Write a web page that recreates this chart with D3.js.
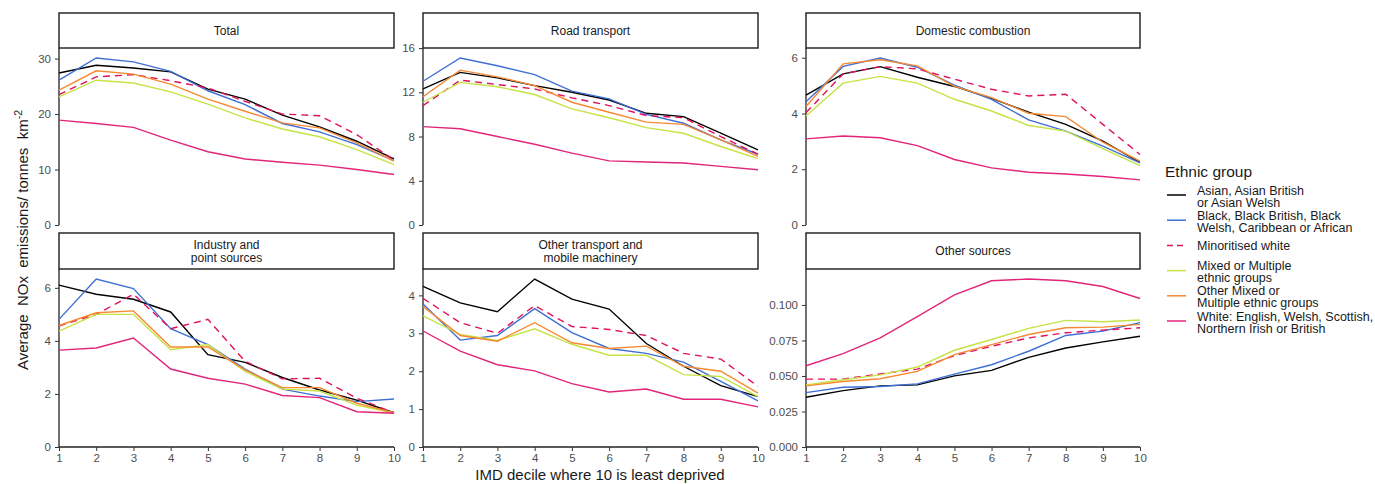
<!DOCTYPE html>
<html>
<head>
<meta charset="utf-8">
<script src="https://cdn.jsdelivr.net/npm/d3@7"></script>
<style>
  body { margin: 0; background: #fff; }
  text { font-family: "Liberation Sans", Arial, sans-serif; }
</style>
</head>
<body>
<div id="chart"></div>
<script>
// IMD deciles
const deciles = [1, 2, 3, 4, 5, 6, 7, 8, 9, 10];

// Ethnic groups (legend order)
const groups = [
    ["Asian, Asian British", "or Asian Welsh"],
    ["Black, Black British, Black", "Welsh, Caribbean or African"],
    ["Minoritised white"],
    ["Mixed or Multiple", "ethnic groups"],
    ["Other Mixed or", "Multiple ethnic groups"],
    ["White: English, Welsh, Scottish,", "Northern Irish or British"]
];
const groupColors = ["#000000", "#3f6fd3", "#e0105e", "#c6e344", "#f58a33", "#e2257a"];
const groupDashed = [false, false, true, false, false, false];

// Facet titles
const facetTitles = [
    ["Total"], ["Road transport"], ["Domestic combustion"],
    ["Industry and", "point sources"], ["Other transport and", "mobile machinery"], ["Other sources"]
];

// values per facet, one row per ethnic group (same order as groups)
const total = [
    [27.4, 28.8, 28.3, 27.6, 24.5, 22.7, 19.8, 17.7, 15.1, 11.9],
    [26.1, 30.1, 29.4, 27.7, 24.2, 21.7, 18.3, 16.8, 14.5, 11.6],
    [23.5, 26.7, 27.1, 26.0, 24.7, 22.3, 20.0, 19.7, 16.3, 11.7],
    [23.1, 26.1, 25.6, 24.0, 21.8, 19.3, 17.3, 15.9, 13.6, 10.9],
    [24.3, 27.8, 27.2, 25.4, 22.7, 20.5, 18.4, 17.5, 14.8, 11.5],
    [18.9, 18.3, 17.6, 15.3, 13.2, 11.9, 11.3, 10.8, 10.0, 9.1]
];
const road = [
    [12.3, 13.8, 13.3, 12.6, 12.0, 11.3, 10.1, 9.8, 8.3, 6.8],
    [13.0, 15.1, 14.4, 13.6, 12.1, 11.4, 10.0, 9.2, 7.7, 6.4],
    [10.8, 13.1, 12.7, 12.3, 11.5, 10.8, 9.9, 9.7, 8.0, 6.4],
    [11.1, 12.9, 12.5, 11.8, 10.5, 9.7, 8.8, 8.3, 7.1, 6.0],
    [11.6, 14.0, 13.4, 12.6, 11.1, 10.2, 9.3, 9.1, 7.7, 6.2],
    [8.9, 8.7, 8.0, 7.3, 6.5, 5.8, 5.7, 5.6, 5.3, 5.0]
];
const domestic = [
    [4.66, 5.42, 5.68, 5.30, 4.97, 4.54, 4.05, 3.61, 3.01, 2.25],
    [4.42, 5.69, 5.99, 5.66, 5.02, 4.51, 3.77, 3.37, 2.83, 2.23],
    [4.03, 5.42, 5.68, 5.60, 5.23, 4.87, 4.63, 4.69, 3.61, 2.53],
    [3.91, 5.09, 5.33, 5.09, 4.51, 4.09, 3.57, 3.37, 2.74, 2.13],
    [4.25, 5.78, 5.93, 5.71, 4.97, 4.57, 4.01, 3.89, 2.97, 2.29],
    [3.09, 3.19, 3.13, 2.85, 2.35, 2.05, 1.89, 1.83, 1.74, 1.62]
];
const industry = [
    [6.10, 5.76, 5.57, 5.09, 3.48, 3.19, 2.62, 2.15, 1.77, 1.29],
    [4.81, 6.33, 5.97, 4.46, 3.86, 2.94, 2.18, 1.92, 1.71, 1.81],
    [4.56, 5.00, 5.76, 4.46, 4.81, 3.23, 2.57, 2.59, 1.84, 1.29],
    [4.37, 5.00, 5.00, 3.67, 3.86, 2.85, 2.18, 2.11, 1.58, 1.27],
    [4.58, 5.06, 5.13, 3.77, 3.77, 2.91, 2.24, 2.24, 1.65, 1.29],
    [3.65, 3.73, 4.11, 2.94, 2.59, 2.37, 1.94, 1.86, 1.33, 1.27]
];
const otherTransport = [
    [4.24, 3.80, 3.57, 4.43, 3.90, 3.64, 2.73, 2.13, 1.62, 1.33],
    [3.77, 2.82, 2.94, 3.65, 3.02, 2.60, 2.47, 2.24, 1.73, 1.22],
    [3.92, 3.28, 3.00, 3.73, 3.18, 3.10, 2.94, 2.47, 2.32, 1.60],
    [3.46, 2.97, 2.81, 3.12, 2.71, 2.42, 2.42, 1.91, 1.86, 1.33],
    [3.71, 2.94, 2.79, 3.28, 2.75, 2.60, 2.66, 2.13, 2.00, 1.42],
    [3.06, 2.53, 2.17, 2.01, 1.67, 1.45, 1.53, 1.26, 1.26, 1.06]
];
const otherSources = [
    [0.0350, 0.0397, 0.0430, 0.0437, 0.0501, 0.0539, 0.0631, 0.0697, 0.0740, 0.0780],
    [0.0383, 0.0421, 0.0426, 0.0444, 0.0513, 0.0579, 0.0674, 0.0785, 0.0816, 0.0875],
    [0.0478, 0.0478, 0.0515, 0.0548, 0.0643, 0.0709, 0.0768, 0.0804, 0.0823, 0.0839],
    [0.0437, 0.0473, 0.0508, 0.0563, 0.0681, 0.0757, 0.0835, 0.0891, 0.0882, 0.0894],
    [0.0430, 0.0461, 0.0480, 0.0532, 0.0650, 0.0721, 0.0792, 0.0839, 0.0844, 0.0863],
    [0.0572, 0.0657, 0.0768, 0.0917, 0.1071, 0.1170, 0.1182, 0.1170, 0.1130, 0.1045]
];

// y tick values per facet
const yTicks = [
    [0, 10, 20, 30],
    [0, 4, 8, 12, 16],
    [0, 2, 4, 6],
    [0, 2, 4, 6],
    [0, 1, 2, 3, 4],
    [0, 0.025, 0.05, 0.075, 0.1]
];
const facetData = [total, road, domestic, industry, otherTransport, otherSources];

// layout
const W = 1375, H = 484;
const colX = [[59, 394], [423, 758], [806, 1140]];
const rows = [
    {stripTop: 13, plotTop: 48, plotBottom: 225},
    {stripTop: 233, plotTop: 269, plotBottom: 447}
];

const svg = d3.select("#chart").append("svg")
    .attr("width", W)
    .attr("height", H);

const x = d3.scaleLinear().domain([1, 10]);

facetData.forEach((data, i) => {
    let col = i % 3, r = Math.floor(i / 3);
    let row = rows[r];
    let [x0, x1] = colX[col];
    let xs = x.copy().range([x0, x1]);
    let yMax = d3.max(data, d => d3.max(d)) * 1.06;
    let y = d3.scaleLinear().domain([0, yMax]).range([row.plotBottom, row.plotTop]);

    let g = svg.append("g");

    // strip
    g.append("rect")
        .attr("x", x0)
        .attr("y", row.stripTop)
        .attr("width", x1 - x0)
        .attr("height", row.plotTop - row.stripTop)
        .attr("fill", "white")
        .attr("stroke", "#1a1a1a")
        .attr("stroke-width", 1.4);

    let title = facetTitles[i];
    let midY = (row.stripTop + row.plotTop) / 2;
    title.forEach((t, k) => {
        g.append("text")
            .attr("x", (x0 + x1) / 2)
            .attr("y", midY + 4.3 + (k - (title.length - 1) / 2) * 12.6)
            .attr("text-anchor", "middle")
            .attr("font-size", "12px")
            .attr("fill", "#1a1a1a")
            .text(t);
    });

    // y axis
    let fmt = i === 5 ? d3.format(".3f") : d3.format("d");
    let yAxis = g.append("g")
        .attr("transform", `translate(${x0},0)`)
        .call(d3.axisLeft(y).tickValues(yTicks[i]).tickSize(4).tickPadding(4).tickFormat(fmt));
    yAxis.select(".domain").attr("stroke", "#222").attr("stroke-width", 1.3)
        .attr("d", `M0,${row.plotTop}V${row.plotBottom}`);
    yAxis.selectAll(".tick line").attr("stroke", "#333");
    yAxis.selectAll(".tick text")
        .attr("fill", "#4d4d4d")
        .style("font-size", "11.5px")
        .style("font-family", "'Liberation Sans', Arial, sans-serif");

    // x axis only on bottom row
    if (r === 1) {
        let xAxis = g.append("g")
            .attr("transform", `translate(0,${row.plotBottom})`)
            .call(d3.axisBottom(xs).tickValues(deciles).tickSize(4).tickPadding(3).tickFormat(d3.format("d")));
        xAxis.select(".domain").attr("stroke", "#222").attr("stroke-width", 1.3)
            .attr("d", `M${x0},0H${x1}`);
        xAxis.selectAll(".tick line").attr("stroke", "#333");
        xAxis.selectAll(".tick text")
            .attr("fill", "#4d4d4d")
            .style("font-size", "11.5px")
            .style("font-family", "'Liberation Sans', Arial, sans-serif");
    }

    // lines
    let line = d3.line()
        .x((d, k) => xs(deciles[k]))
        .y(d => y(d));

    data.forEach((vals, gi) => {
        g.append("path")
            .datum(vals)
            .attr("d", line)
            .attr("fill", "none")
            .attr("stroke", groupColors[gi])
            .attr("stroke-width", 1.4)
            .attr("stroke-dasharray", groupDashed[gi] ? "7,5" : null);
    });
});

// axis titles
svg.append("text")
    .attr("x", 600)
    .attr("y", 480)
    .attr("text-anchor", "middle")
    .attr("font-size", "15px")
    .attr("fill", "#1a1a1a")
    .text("IMD decile where 10 is least deprived");

let yTitle = svg.append("text")
    .attr("transform", "translate(28,240) rotate(-90)")
    .attr("text-anchor", "middle")
    .attr("font-size", "15px")
    .attr("fill", "#1a1a1a")
    .attr("xml:space", "preserve");
yTitle.append("tspan").text("Average  NOx  emissions/ tonnes  km");
yTitle.append("tspan").attr("dy", -6).attr("font-size", "10.5px").text("-2");

// legend
let legend = svg.append("g");
legend.append("text")
    .attr("x", 1165)
    .attr("y", 177)
    .attr("font-size", "15.5px")
    .attr("fill", "#1a1a1a")
    .text("Ethnic group");

groups.forEach((lines, gi) => {
    let ky = 195 + gi * 25.2;
    legend.append("line")
        .attr("x1", 1167).attr("x2", 1186)
        .attr("y1", ky).attr("y2", ky)
        .attr("stroke", groupColors[gi])
        .attr("stroke-width", 1.5)
        .attr("stroke-dasharray", groupDashed[gi] ? "6,4" : null);
    lines.forEach((t, k) => {
        legend.append("text")
            .attr("x", 1197)
            .attr("y", lines.length === 1 ? ky + 4.5 : ky - 0.5 + k * 12)
            .attr("font-size", "12.5px")
            .attr("fill", "#1a1a1a")
            .text(t);
    });
});
</script>
</body>
</html>
